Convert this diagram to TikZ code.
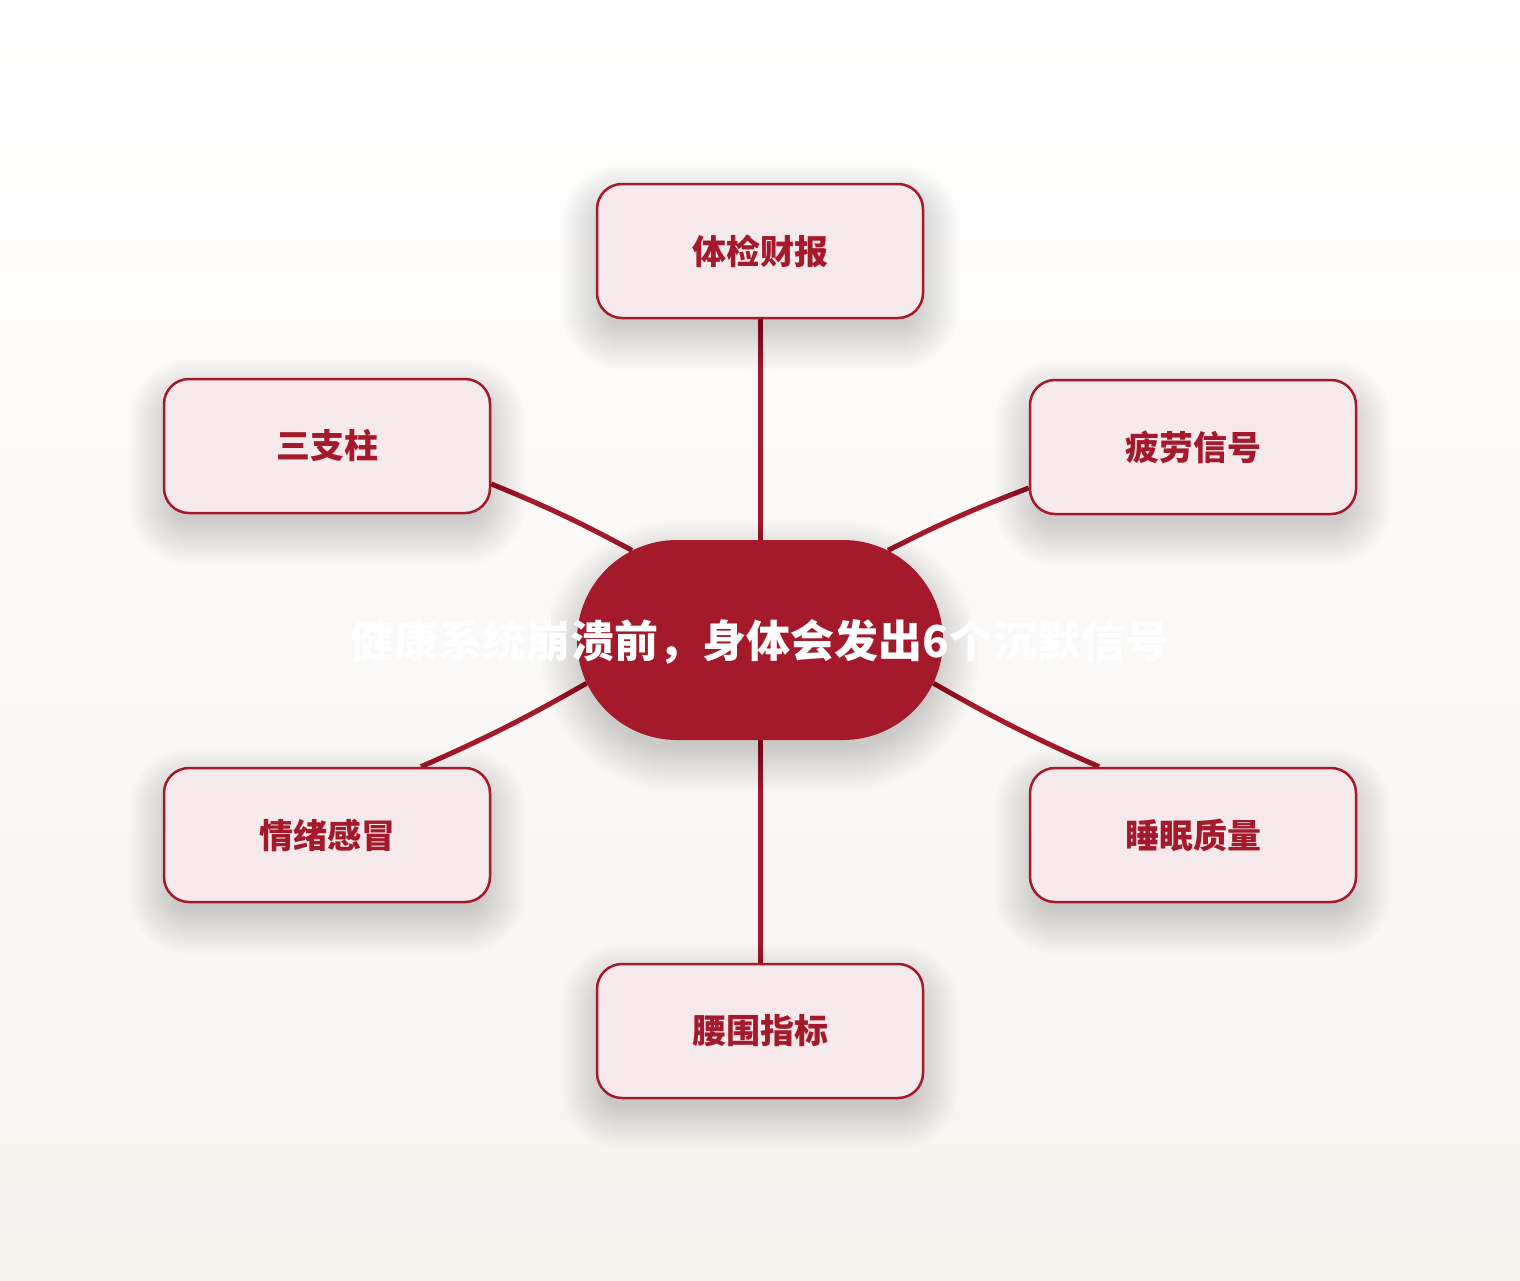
\documentclass[tikz,border=0pt]{standalone}
\usepackage{fontspec}
\newfontfamily\cjk{Noto Sans CJK SC}
\usetikzlibrary{shapes.misc}
\definecolor{hubred}{RGB}{164,26,42}
\definecolor{boxfill}{RGB}{245,233,236}
\definecolor{bgtop}{RGB}{254,254,254}
\definecolor{bgbottom}{RGB}{247,244,240}
\pgfdeclarelayer{back}
\pgfdeclarelayer{links}
\pgfdeclarelayer{shade}
\pgfsetlayers{back,links,shade,main}
% soft drop shadow: centre x, centre y, half width, half height, corner radius
\newcommand{\castshadow}[5]{%
  \foreach \grow in {-8,-6,...,36}{
    \pgfmathsetmacro\rad{#5+\grow}
    \fill[black,opacity=0.007,rounded corners=\rad pt]
      (#1-#3-\grow,#2-#4-\grow+16) rectangle (#1+#3+\grow,#2+#4+\grow+16);
  }}
\begin{document}
\begin{tikzpicture}
[x=1pt,y=-1pt,
  lineDecorate/.style={-,line width=5pt,draw=hubred},%
  boxDecorate/.style={shape=rectangle,rounded corners=25pt,draw=hubred,
    line width=2.5pt,fill=boxfill,minimum width=326pt,minimum height=134pt,
    text=hubred,font=\cjk\bfseries\fontsize{34}{40}\selectfont},%
  hubDecorate/.style={shape=rounded rectangle,fill=hubred,inner sep=0pt,
    minimum width=366pt,minimum height=200pt}]
%% background
\begin{pgfonlayer}{back}
\fill[top color=bgtop,bottom color=bgbottom] (0,0) rectangle (1520,1280);
\end{pgfonlayer}
\useasboundingbox (0,0) rectangle (1520,1280);
%% hub
\node (hub) at (760,640) [hubDecorate] {};
\begin{pgfonlayer}{shade}
\castshadow{760}{640}{183}{100}{100}
\end{pgfonlayer}
%% signal boxes
\foreach \nodename/\nodelabel/\x/\y in {
  top/体检财报/760/251, ul/三支柱/327/446, ur/疲劳信号/1193/447,
  ll/情绪感冒/327/835, lr/睡眠质量/1193/835, bot/腰围指标/760/1031}
{
  \node (\nodename) at (\x,\y) [boxDecorate] {\nodelabel};
  \begin{pgfonlayer}{shade}
  \castshadow{\x}{\y}{163}{67}{25}
  \end{pgfonlayer}
}
%% edges or lines
\begin{pgfonlayer}{links}
\path
\foreach \startnode/\endnode/\bend in {
  top/hub/0, ul.-13/hub.145/3, ur.194/hub.35/-3,
  ll.36/hub.194/-3, lr.144/hub.-14/3, bot/hub/0}
{
  (\startnode) edge[lineDecorate,bend left=\bend] (\endnode)
};
\end{pgfonlayer}
%% hub title
\node (hubtext) at (760,642) [text=white,font=\cjk\bfseries\fontsize{44}{50}\selectfont]
  {健康系统崩溃前，身体会发出6个沉默信号};
\end{tikzpicture}
\end{document}
